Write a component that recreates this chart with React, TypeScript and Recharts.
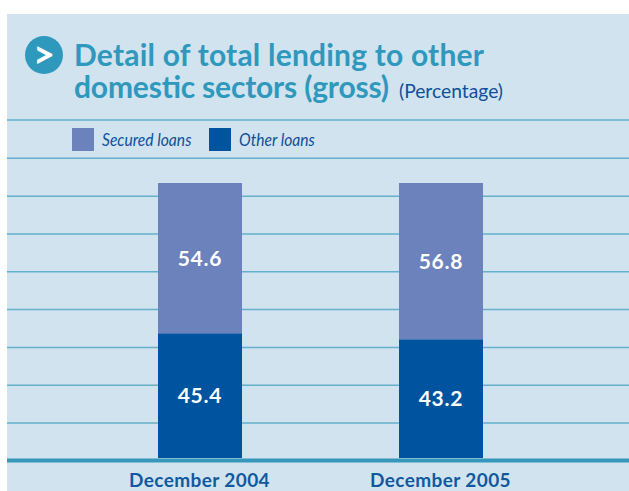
import React from "react";
import { BarChart, Bar, XAxis, YAxis, CartesianGrid, Legend, LabelList } from "recharts";

const categories = ["December 2004", "December 2005"];
const securedLoans = [54.6, 56.8];
const otherLoans = [45.4, 43.2];
const gridValues = [12.7, 26.5, 40.2, 54, 67.7, 81.5, 95.2, 109, 122.9];
const titleLines = ["Detail of total lending to other", "domestic sectors (gross)"];
const unitLabel = "(Percentage)";

const data = categories.map((c, i) => ({ category: c, secured: securedLoans[i], other: otherLoans[i] }));
const font = "Lato, sans-serif";

const renderLegend = () => (
  <div style={{ display: "flex", alignItems: "center", fontFamily: font, fontStyle: "italic", fontSize: 17, color: "#0f4f9c", height: 23 }}>
    <span style={{ width: 22, height: 23, background: "#6c82bd", display: "inline-block", flex: "none" }} />
    <span style={{ marginLeft: 8, width: 107, flex: "none", transform: "scaleX(0.92)", transformOrigin: "left", whiteSpace: "nowrap" }}>Secured loans</span>
    <span style={{ width: 22, height: 23, background: "#00539f", display: "inline-block", flex: "none" }} />
    <span style={{ marginLeft: 8, transform: "scaleX(0.92)", transformOrigin: "left", whiteSpace: "nowrap" }}>Other loans</span>
  </div>
);

export default function App() {
  return (
    <div style={{ position: "absolute", left: 0, top: 0, width: 629, height: 491, overflow: "hidden", background: "#fff" }}>
      <div style={{ position: "absolute", left: 7, top: 14, width: 622, height: 477, background: "#d0e3ef" }} />
      <svg style={{ position: "absolute", left: 0, top: 0 }} width={629} height={112}>
        <circle cx={44} cy={55} r={19} fill="#2f98bd" />
        <text x={44} y={68} textAnchor="middle" fill="#fff" fontFamily={font} fontWeight={700} fontSize={38}>&gt;</text>
        <g fontFamily={font} fontWeight={700} fontSize={30} fill="#2f98bd">
          <text x={74} y={66} textLength={410} lengthAdjust="spacing">{titleLines[0]}</text>
          <text x={74} y={98} textLength={315} lengthAdjust="spacing">{titleLines[1]}</text>
        </g>
        <text x={399} y={98} textLength={104} lengthAdjust="spacingAndGlyphs" fontFamily={font} fontSize={19} fill="#0f4f9c">{unitLabel}</text>
      </svg>
      <div style={{ position: "absolute", left: 0, top: 0 }}>
        <BarChart
          width={629}
          height={491}
          data={data}
          margin={{ top: 100.5, bottom: 0, left: 7, right: 0 }}
          barCategoryGap={0}
          style={{ background: "transparent" }}
        >
          <CartesianGrid vertical={false} horizontalValues={gridValues} stroke="#64b0cd" strokeWidth={1.5} />
          <YAxis hide type="number" domain={[-0.9, 130]} allowDataOverflow />
          <XAxis
            dataKey="category"
            height={30.5}
            padding={{ left: 72, right: 68 }}
            axisLine={{ stroke: "#3597bb", strokeWidth: 4 }}
            tickLine={false}
            interval={0}
            tick={{ fill: "#11599f", fontFamily: font, fontWeight: 700, fontSize: 19, letterSpacing: 0.4 }}
            tickMargin={7}
          />
          <Legend content={renderLegend} layout="horizontal" verticalAlign="middle" align="center" wrapperStyle={{ left: 72, top: 128, width: 300 }} />
          <Bar dataKey="other" name="Other loans" stackId="a" fill="#00539f" barSize={84} isAnimationActive={false}>
            <LabelList dataKey="other" position="center" fill="#fff" fontFamily={font} fontWeight={700} fontSize={21} letterSpacing={0.8} />
          </Bar>
          <Bar dataKey="secured" name="Secured loans" stackId="a" fill="#6c82bd" barSize={84} isAnimationActive={false}>
            <LabelList dataKey="secured" position="center" fill="#fff" fontFamily={font} fontWeight={700} fontSize={21} letterSpacing={0.8} />
          </Bar>
        </BarChart>
      </div>
    </div>
  );
}
